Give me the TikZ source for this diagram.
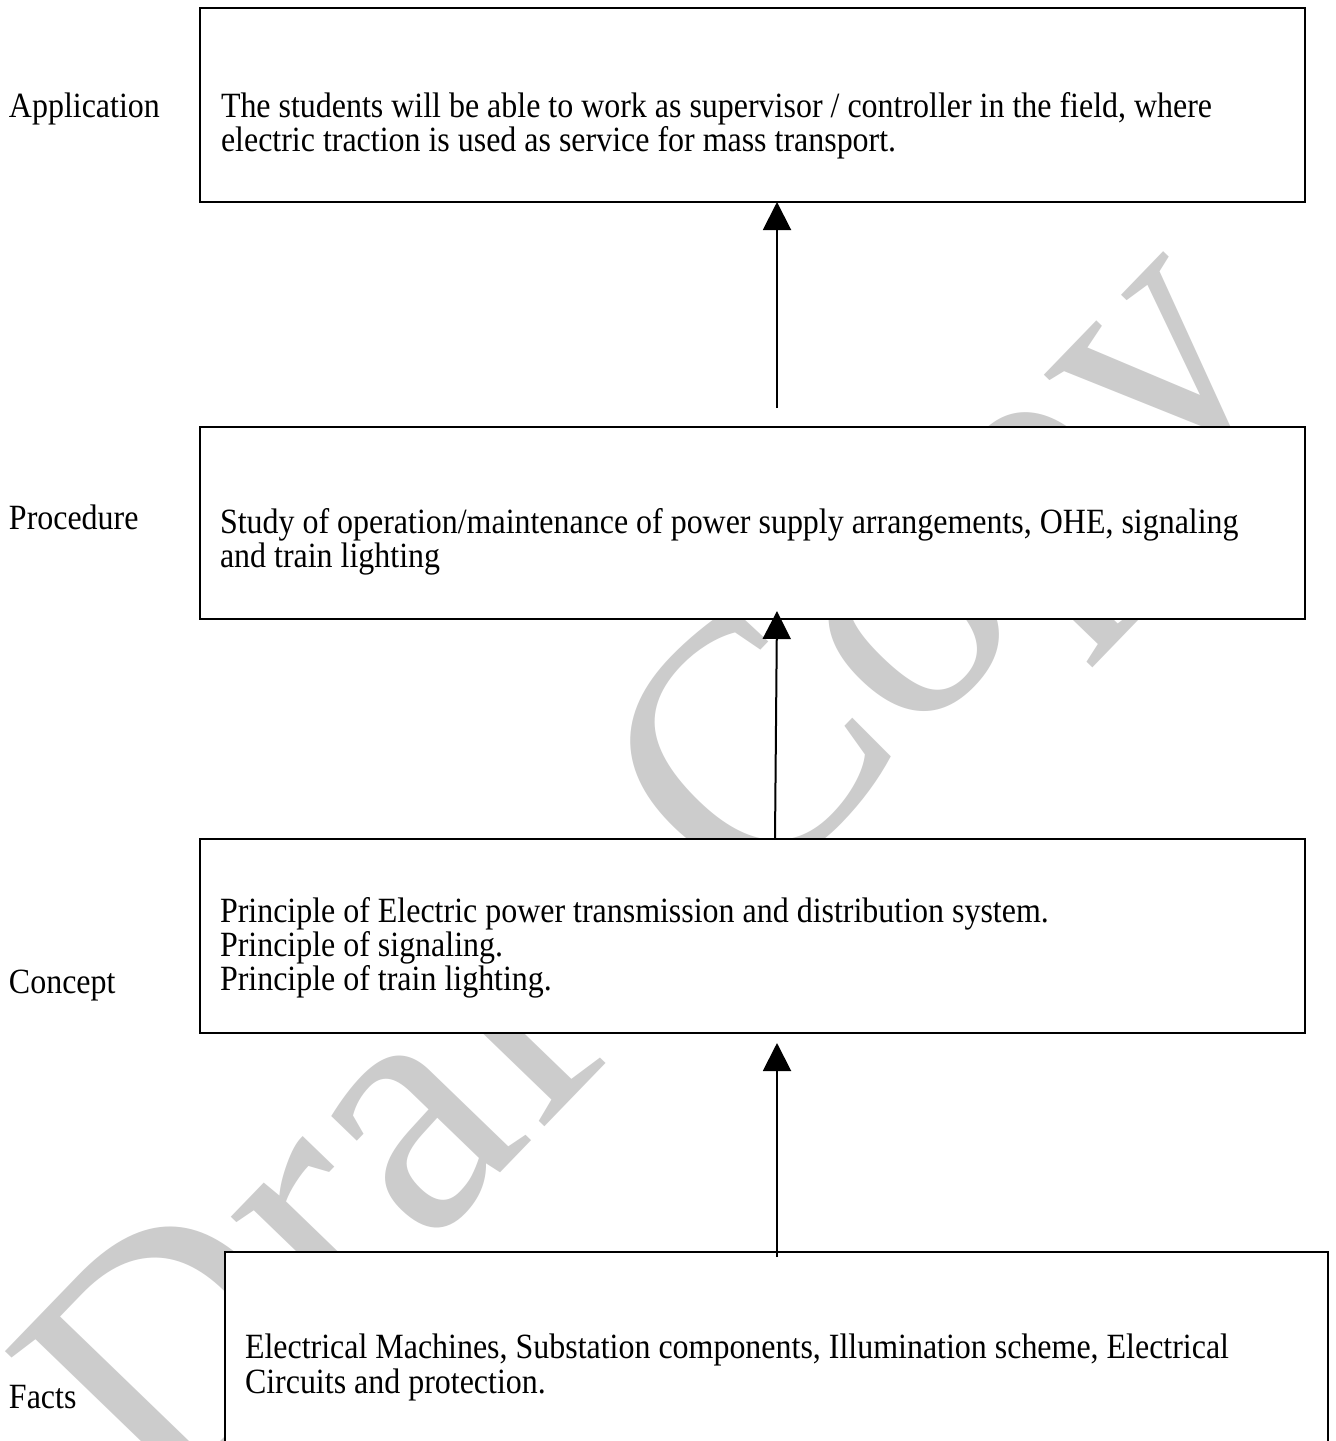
\documentclass[tikz,border=0pt]{standalone}
\usepackage{fontspec}
\setmainfont{Liberation Serif}[FakeStretch=0.9]
\newfontfamily\wmfont{Liberation Serif}
\usetikzlibrary{arrows.meta}
% #1 = baseline distance, #2 = rows separated by \cr
\newcommand\boxlines[2]{\vtop{\baselineskip=#1pt\lineskiplimit=-100pt\lineskip=0pt\halign{##\hfil\cr#2\crcr}}}
\begin{document}
\begin{tikzpicture}[x=1pt,y=-1pt,
  every node/.style={inner sep=0pt, outer sep=0pt},
  txtfont/.style={font=\fontsize{35.5}{34}\selectfont},
  box/.style={draw=black, line width=2pt, fill=white, rectangle, anchor=north west},
  lbl/.style={txtfont, anchor=base west},
  boxtext/.style={txtfont, anchor=base west},
  arr/.style={line width=2pt, -{Triangle[length=28pt,width=28pt]}},
  wm/.style={text=black!20, font=\wmfont\fontsize{355}{360}\selectfont, rotate=46, anchor=base west}
]
\useasboundingbox (0,0) rectangle (1336,1441);
\clip (0,0) rectangle (1336,1441);
\fill[white] (0,0) rectangle (1336,1441);

% watermark
\node[wm] (wmark) at (165,1520) {Draft Copy};

% boxes
\node[box, minimum width=1105pt, minimum height=194pt] (b1) at (200,8) {};
\node[box, minimum width=1105pt, minimum height=192pt] (b2) at (200,427) {};
\node[box, minimum width=1105pt, minimum height=194pt] (b3) at (200,839) {};
\node[box, minimum width=1103pt, minimum height=230pt] (b4) at (225,1252) {};

% level labels
\node[lbl] (lapp) at (9,117) {Application};
\node[lbl] (lproc) at (9,529) {Procedure};
\node[lbl] (lconc) at (9,993) {Concept};
\node[lbl] (lfact) at (9,1408) {Facts};

% box texts
\node[boxtext] (t1) at (221,117) {\boxlines{34}{The students will be able to work as supervisor / controller in the field, where\cr electric traction is used as service for mass transport.}};
\node[boxtext] (t2) at (220,533) {\boxlines{34}{Study of operation/maintenance of power supply arrangements, OHE, signaling\cr and train lighting}};
\node[boxtext] (t3) at (220,922) {\boxlines{34}{Principle of Electric power transmission and distribution system.\cr Principle of signaling.\cr Principle of train lighting.}};
\node[boxtext] (t4) at (245,1358) {\boxlines{35}{Electrical Machines, Substation components, Illumination scheme, Electrical\cr Circuits and protection.}};

% connectors
\coordinate (a1s) at (777,408);
\coordinate (a1e) at (777,202);
\coordinate (a2s) at (775,839);
\coordinate (a2e) at (777,611);
\coordinate (a3s) at (777,1257);
\coordinate (a3e) at (777,1043);
\draw[arr] (a1s) -- (a1e);
\draw[arr] (a2s) -- (a2e);
\draw[arr] (a3s) -- (a3e);
\end{tikzpicture}
\end{document}
